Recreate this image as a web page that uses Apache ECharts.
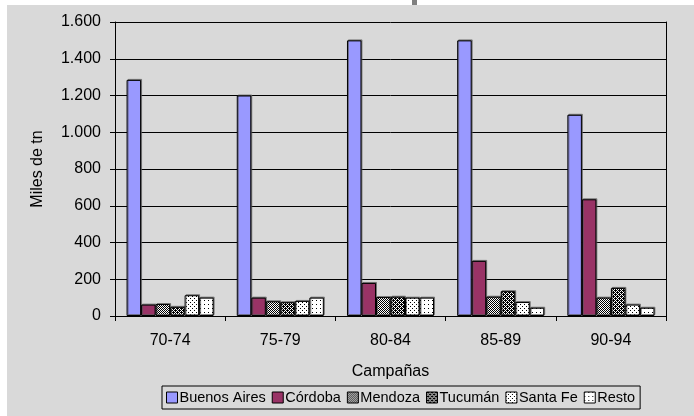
<!DOCTYPE html>
<html>
<head>
<meta charset="utf-8">
<script src="https://cdn.jsdelivr.net/npm/echarts@6/dist/echarts.min.js"></script>
<style>
html,body{margin:0;padding:0;background:#ffffff;}
#chart{width:694px;height:416px;}
</style>
</head>
<body>
<div id="chart"></div>
<script>
var categories = ['70-74', '75-79', '80-84', '85-89', '90-94'];
var buenosAires = [1285, 1200, 1500, 1500, 1095];
var cordoba = [62, 100, 180, 300, 635];
var mendoza = [65, 80, 103, 105, 100];
var tucuman = [50, 75, 105, 135, 153];
var santaFe = [113, 82, 100, 76, 62];
var resto = [100, 100, 100, 45, 45];
var seriesNames = ['Buenos Aires', 'Córdoba', 'Mendoza', 'Tucumán', 'Santa Fe', 'Resto'];
var yTicks = [0, 200, 400, 600, 800, 1000, 1200, 1400, 1600];

function makePattern(rows) {
  var c = document.createElement('canvas');
  c.width = rows[0].length; c.height = rows.length;
  var ctx = c.getContext('2d');
  for (var y = 0; y < rows.length; y++) {
    for (var x = 0; x < rows[y].length; x++) {
      ctx.fillStyle = rows[y][x] === '1' ? '#000000' : '#ffffff';
      ctx.fillRect(x, y, 1, 1);
    }
  }
  return { image: c, repeat: 'repeat' };
}
var patMendoza = makePattern(['1010', '0101', '1010', '0101']);
var patTucuman = makePattern(['1110', '0101', '1011', '0101']);
var patSantaFe = makePattern(['1000', '0000', '0010', '0000']);
var patResto = makePattern(['1000', '0000', '0000', '0000']);
var colors = ['#9999ff', '#993366', patMendoza, patTucuman, patSantaFe, patResto];
var dataSets = [buenosAires, cordoba, mendoza, tucuman, santaFe, resto];

var chart = echarts.init(document.getElementById('chart'), null, { renderer: 'canvas' });
var series = dataSets.map(function (d, i) {
  return {
    name: seriesNames[i],
    type: 'bar',
    data: d,
    barGap: '0%',
    barCategoryGap: '21%',
    yAxisIndex: 0,
    itemStyle: {
      color: colors[i],
      borderColor: '#000000',
      borderWidth: 1,
      shadowColor: 'rgba(90,90,90,0.7)',
      shadowOffsetX: 1,
      shadowOffsetY: -1,
      shadowBlur: 0
    },
    emphasis: { disabled: true }
  };
});

var font = 'Liberation Sans, Arial, sans-serif';
chart.setOption({
  backgroundColor: '#d9d9d9',
  animation: false,
  textStyle: { fontFamily: font },
  graphic: [
    { type: 'rect', left: 0, top: 0, shape: { width: 694, height: 5 }, style: { fill: '#ffffff' }, z: 100 },
    { type: 'rect', left: 0, top: 0, shape: { width: 7, height: 416 }, style: { fill: '#ffffff' }, z: 100 },
    { type: 'rect', left: 412, top: 0, shape: { width: 5, height: 5 }, style: { fill: '#808080' }, z: 101 }
  ],
  grid: { left: 115, right: 28, top: 22, bottom: 100, containLabel: false },
  legend: {
    data: seriesNames.map(function (n, i) {
      return { name: n, itemStyle: { color: colors[i], borderColor: '#000', borderWidth: 1, shadowBlur: 0, shadowOffsetX: 0, shadowOffsetY: 0 } };
    }),
    left: 162,
    top: 386,
    itemWidth: 11,
    itemHeight: 11,
    itemGap: 6,
    icon: 'rect',
    padding: [4, 5, 4, 4],
    borderColor: '#000000',
    borderWidth: 1,
    backgroundColor: '#d9d9d9',
    textStyle: { fontSize: 14.5, color: '#000', fontFamily: font, padding: [0, 0, 0, -3] },
    selectedMode: false
  },
  xAxis: {
    type: 'category',
    data: categories,
    name: 'Campañas',
    nameLocation: 'middle',
    nameGap: 48,
    nameTextStyle: { fontSize: 16, color: '#000', fontFamily: font },
    axisLine: { lineStyle: { color: '#000', width: 1 } },
    axisTick: { show: true, length: 5, lineStyle: { color: '#000' } },
    axisLabel: { fontSize: 16, color: '#000', margin: 17, fontFamily: font },
    splitLine: { show: false }
  },
  yAxis: [{
    type: 'value',
    min: 0,
    max: 1600,
    interval: 200,
    name: 'Miles de tn',
    nameLocation: 'middle',
    nameGap: 69,
    nameRotate: 90,
    nameTextStyle: { fontSize: 16, color: '#000', fontFamily: font },
    axisLine: { show: true, lineStyle: { color: '#000', width: 1 } },
    axisTick: { show: true, length: 5, inside: false, lineStyle: { color: '#000' } },
    axisLabel: {
      fontSize: 16, color: '#000', margin: 14, fontFamily: font,
      formatter: function (v) {
        if (yTicks.indexOf(v) < 0) return '';
        return String(v).replace(/\B(?=(\d{3})+(?!\d))/g, '.');
      }
    },
    splitLine: { show: true, lineStyle: { color: '#000', width: 1 } }
  }, {
    type: 'value',
    min: 0,
    max: 1600,
    interval: 200,
    position: 'right',
    axisLine: { show: true, lineStyle: { color: '#000', width: 1 } },
    axisTick: { show: false },
    axisLabel: { show: false },
    splitLine: { show: false }
  }],
  series: series
});
</script>
</body>
</html>
